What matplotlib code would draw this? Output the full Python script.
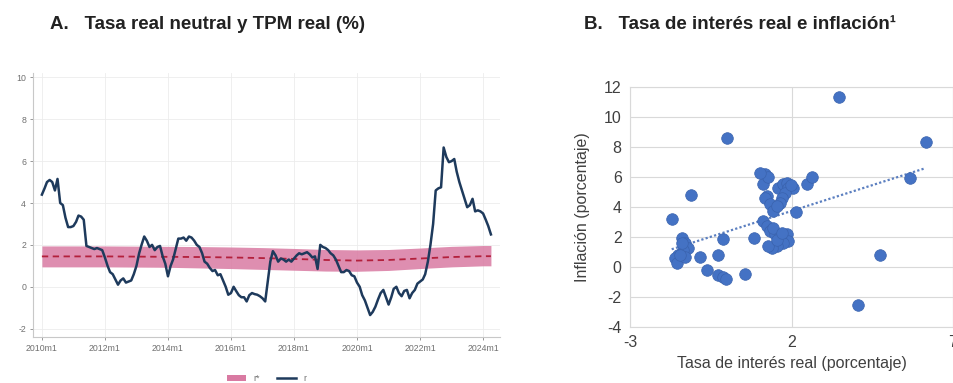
import matplotlib
matplotlib.use("Agg")
import matplotlib.pyplot as plt
import numpy as np
import pandas as pd
from matplotlib.patches import Patch
from matplotlib.lines import Line2D

# ── Panel A data: real policy rate (monthly) and neutral rate band ───────────
tpm_real = [
    4.4, 4.7, 5.0, 5.1, 5.0, 4.6, 5.15, 4.0, 3.9, 3.3, 2.85, 2.85,      # 2010
    2.9, 3.1, 3.4, 3.35, 3.2, 1.95, 1.9, 1.85, 1.8, 1.85, 1.8, 1.75,    # 2011
    1.4, 1.0, 0.7, 0.6, 0.35, 0.1, 0.3, 0.4, 0.2, 0.25, 0.3, 0.6,       # 2012
    1.0, 1.6, 2.0, 2.4, 2.2, 1.9, 2.0, 1.75, 1.9, 1.95, 1.45, 1.1,      # 2013
    0.5, 1.0, 1.3, 1.8, 2.3, 2.3, 2.35, 2.2, 2.4, 2.35, 2.2, 2.0,       # 2014
    1.9, 1.6, 1.2, 1.1, 0.9, 0.75, 0.8, 0.55, 0.6, 0.3, 0.0, -0.38,     # 2015
    -0.3, 0.0, -0.2, -0.4, -0.5, -0.5, -0.7, -0.4, -0.3, -0.35, -0.38, -0.45,  # 2016
    -0.55, -0.7, 0.2, 1.2, 1.7, 1.5, 1.2, 1.35, 1.3, 1.2, 1.3, 1.2,     # 2017
    1.35, 1.5, 1.6, 1.55, 1.6, 1.65, 1.55, 1.4, 1.45, 0.85, 2.0, 1.9,   # 2018
    1.85, 1.75, 1.6, 1.5, 1.3, 1.0, 0.7, 0.7, 0.8, 0.75, 0.55, 0.5,     # 2019
    0.2, 0.0, -0.4, -0.65, -1.0, -1.35, -1.2, -0.95, -0.6, -0.3, -0.15, -0.5,  # 2020
    -0.85, -0.5, -0.1, 0.0, -0.3, -0.45, -0.2, -0.15, -0.55, -0.3, -0.15, 0.15,  # 2021
    0.25, 0.35, 0.6, 1.2, 2.0, 3.0, 4.6, 4.7, 4.75, 6.65, 6.2, 5.95,    # 2022
    6.0, 6.1, 5.5, 5.0, 4.6, 4.2, 3.8, 3.9, 4.2, 3.6, 3.65, 3.6,        # 2023
    3.5, 3.2, 2.9, 2.5,                                                 # 2024
]
tpm_dates = pd.date_range("2010-01-01", periods=len(tpm_real), freq="MS")

rstar_dates = pd.to_datetime([f"{y}-01-01" for y in range(2010, 2025)] + ["2024-04-01"])
rstar_mid = [1.45, 1.45, 1.45, 1.44, 1.43, 1.42, 1.40, 1.37, 1.33, 1.28,
             1.25, 1.28, 1.35, 1.42, 1.46, 1.46]
rstar_low = [0.95, 0.95, 0.95, 0.94, 0.93, 0.90, 0.87, 0.83, 0.79, 0.75,
             0.74, 0.78, 0.87, 0.95, 1.00, 1.00]
rstar_high = [1.95, 1.95, 1.95, 1.94, 1.93, 1.92, 1.90, 1.87, 1.83, 1.78,
              1.76, 1.78, 1.85, 1.93, 1.97, 1.97]

xtick_years = list(range(2010, 2025, 2))
xtick_labels = [f"{y}m1" for y in xtick_years]

# ── Panel B data: real interest rate vs inflation ────────────────────────────
tasa_real = [3.46, -0.01, 6.15, 5.66, -1.1, -1.71, 4.73, 4.06,
             -0.12, 0.84, 0.55, -0.82, -0.27, -0.63, -0.27, -0.12, -0.02,
             -1.4, -1.3, -1.2, -1.35, -1.51, -1.61, -1.56, -1.3, -1.45, -1.4,
             1.18, 1.12, 1.28, 1.23, 1.18, 1.33, 1.43, 1.59, 1.74, 1.85, 1.9,
             2.05, 1.79, 1.69, 1.64, 1.54, 2.15, 2.48, 2.62,
             1.12, 1.23, 1.33, 1.48, 1.64, 1.85, 1.9, 1.74, 1.54, 1.38, 1.28,
             1.54, 1.43, 1.69, 1.01, 1.99]
inflacion = [11.33, 8.6, 8.3, 5.9, 4.8, 3.18, 0.83, -2.5,
             1.87, 1.95, -0.47, 0.64, 0.8, -0.2, -0.53, -0.69, -0.82,
             1.91, 1.58, 1.24, 1.13, 0.8, 0.58, 0.24, 0.69, 0.83, 1.6,
             6.19, 5.52, 5.97, 4.74, 4.63, 4.18, 3.73, 5.3, 5.52, 5.63, 5.3,
             5.3, 4.96, 4.63, 4.29, 4.07, 3.69, 5.56, 6.01,
             3.06, 2.73, 2.39, 2.17, 2.06, 2.17, 1.72, 1.61, 1.39, 1.27, 1.39,
             1.83, 2.61, 2.28, 6.24, 5.47]

# ── Colours ──────────────────────────────────────────────────────────────────
NAVY = "#1e3a5c"
PINK = "#d97aa2"
RED = "#b3203c"
BLUE = "#4472c4"
GRID = "#ececec"
TXT = "#404040"

plt.rcParams["font.family"] = ["Liberation Sans", "DejaVu Sans"]
plt.rcParams["axes.unicode_minus"] = False

fig = plt.figure(figsize=(9.54, 3.83), dpi=100)
fig.patch.set_facecolor("white")

# ── Panel A ──────────────────────────────────────────────────────────────────
ax1 = fig.add_axes([0.0346, 0.12, 0.4895, 0.689])
ax1.fill_between(rstar_dates, rstar_low, rstar_high, color=PINK, alpha=0.85,
                 lw=0, zorder=2)
ax1.plot(rstar_dates, rstar_mid, color=RED, lw=1.3, ls=(0, (3.5, 2.5)), zorder=3)
ax1.plot(tpm_dates, tpm_real, color=NAVY, lw=1.8, zorder=4)

ax1.set_ylim(-2.4, 10.2)
ax1.set_yticks([-2, 0, 2, 4, 6, 8, 10])
ax1.set_xlim(pd.Timestamp("2009-09-20"), pd.Timestamp("2024-07-15"))
ax1.set_xticks(pd.to_datetime([f"{y}-01-01" for y in xtick_years]))
ax1.set_xticklabels(xtick_labels)
ax1.tick_params(labelsize=6.3, colors="#707070", length=2, width=0.5, pad=3)
ax1.grid(True, color=GRID, lw=0.6, zorder=0)
for s in ["top", "right"]:
    ax1.spines[s].set_visible(False)
for s in ["left", "bottom"]:
    ax1.spines[s].set_color("#c8c8c8")
    ax1.spines[s].set_linewidth(0.8)

handles = [Patch(facecolor=PINK, edgecolor="none"),
           Line2D([0], [0], color=NAVY, lw=1.8)]
ax1.legend(handles, ["r*", "r"], loc="upper center", bbox_to_anchor=(0.5, -0.11),
           ncol=2, frameon=False, fontsize=6.3, handlelength=2.2,
           columnspacing=2.0, labelcolor="#707070")

fig.text(0.052, 0.937, "A.   Tasa real neutral y TPM real (%)", fontsize=13.5,
         fontweight="bold", color="#222222", va="center", ha="left")

# ── Panel B ──────────────────────────────────────────────────────────────────
ax2 = fig.add_axes([0.6604, 0.146, 0.3386, 0.627])
x = np.array(tasa_real)
y = np.array(inflacion)
ax2.scatter(x, y, s=70, color=BLUE, edgecolors="#3a63ae", linewidths=0.5, zorder=3)
coef = np.polyfit(x, y, 1)
xs = np.array([x.min(), x.max()])
ax2.plot(xs, np.polyval(coef, xs), color="#5b7fc0", lw=1.6, ls=(0, (1, 1)), zorder=2)

ax2.set_xlim(-3, 7)
ax2.set_ylim(-4, 12)
ax2.set_xticks([-3, 2, 7])
ax2.set_yticks(range(-4, 13, 2))
ax2.tick_params(labelsize=11.5, colors=TXT, length=0, pad=6)
ax2.grid(True, color="#d9d9d9", lw=0.8, zorder=0)
for s in ax2.spines.values():
    s.set_color("#d9d9d9")
    s.set_linewidth(0.8)
ax2.set_xlabel("Tasa de interés real (porcentaje)", fontsize=11.5, color=TXT,
               labelpad=4)
ax2.set_ylabel("Inflación (porcentaje)", fontsize=11.5, color=TXT, labelpad=10)

fig.text(0.612, 0.937, "B.   Tasa de interés real e inflación¹", fontsize=13.5,
         fontweight="bold", color="#222222", va="center", ha="left")

fig.savefig("out.png", dpi=100, facecolor="white")
